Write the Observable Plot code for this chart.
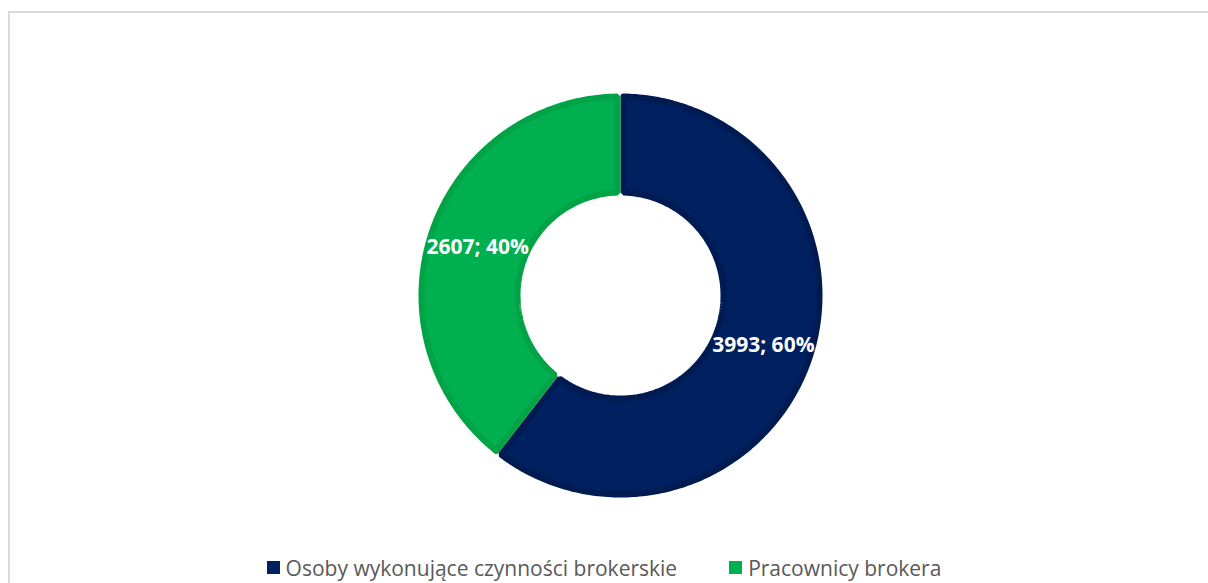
<!DOCTYPE html>
<html>
<head>
<meta charset="utf-8">
<script src="https://cdn.jsdelivr.net/npm/d3@7"></script>
<script src="https://cdn.jsdelivr.net/npm/@observablehq/plot@0.6"></script>
<style>
  html, body { margin: 0; padding: 0; background: #fff; overflow: hidden; width: 1208px; height: 583px; }
  #frame { position: absolute; left: 8px; top: 11px; width: 1400px; height: 800px; border: 2px solid #d9d9d9; box-sizing: border-box; }
  #chart { position: absolute; left: 0; top: 0; }
  #legend { position: absolute; left: 0; top: 550px; width: 1208px; height: 35px; display: flex; justify-content: center; align-items: center;
    font-family: "Open Sans", sans-serif; font-size: 21px; color: #595959; }
  .item { display: flex; align-items: center; }
  .sw { width: 13px; height: 13px; margin-right: 6px; }
</style>
</head>
<body>
<div id="frame"></div>
<div id="chart"></div>
<div id="legend"></div>
<script>
const categories = ["Osoby wykonujące czynności brokerskie", "Pracownicy brokera"];
const values = [3993, 2607];
const percentLabels = ["60%", "40%"];
const fillColors = ["#002060", "#00B050"];
const edgeColors = ["#001A52", "#00A346"];

const RI = 0.495;        // hole radius relative to outer radius
const D = 3 / 202;       // half the inner border width, relative to outer radius

const slices = d3.pie().sort(null)(values);

function ring(slice, d) {
  const ro = 1 - d, ri = RI + d, N = 240, pts = [];
  const ao0 = slice.startAngle + Math.asin(d / ro), ao1 = slice.endAngle - Math.asin(d / ro);
  for (let i = 0; i <= N; i++) {
    const a = ao0 + (ao1 - ao0) * i / N;
    pts.push({x: ro * Math.sin(a), y: -ro * Math.cos(a)});
  }
  const ai0 = slice.startAngle + Math.asin(d / ri), ai1 = slice.endAngle - Math.asin(d / ri);
  for (let i = N; i >= 0; i--) {
    const a = ai0 + (ai1 - ai0) * i / N;
    pts.push({x: ri * Math.sin(a), y: -ri * Math.cos(a)});
  }
  pts.push(pts[0]);
  return pts;
}

const labelData = slices.map((s, i) => {
  const a = (s.startAngle + s.endAngle) / 2, r = (1 + RI) / 2;
  return {x: r * Math.sin(a), y: -r * Math.cos(a), text: `${values[i]}; ${percentLabels[i]}`};
});

const marks = slices.map((s, i) => Plot.line(ring(s, D), {
  x: "x", y: "y", fill: fillColors[i], stroke: edgeColors[i], strokeWidth: 6, strokeLinejoin: "miter", curve: "linear"
}));
marks.push(Plot.text(labelData, {
  x: "x", y: "y", text: "text", fill: "white", fontWeight: "bold", fontSize: 21,
  fontFamily: "Open Sans", textAnchor: "middle", dy: 1
}));

const chart = Plot.plot({
  width: 1208, height: 548, margin: 0,
  style: {background: "transparent", fontFamily: "Open Sans"},
  x: {domain: [-1, 1], range: [418, 822], axis: null},
  y: {domain: [-1, 1], range: [93, 497], axis: null},
  marks
});
document.getElementById("chart").appendChild(chart);

const legend = document.getElementById("legend");
categories.forEach((c, i) => {
  const item = document.createElement("div");
  item.className = "item";
  if (i > 0) item.style.marginLeft = "52px";
  const sw = document.createElement("div");
  sw.className = "sw";
  sw.style.background = fillColors[i];
  const t = document.createElement("span");
  t.textContent = c;
  item.appendChild(sw); item.appendChild(t);
  legend.appendChild(item);
});
</script>
</body>
</html>
